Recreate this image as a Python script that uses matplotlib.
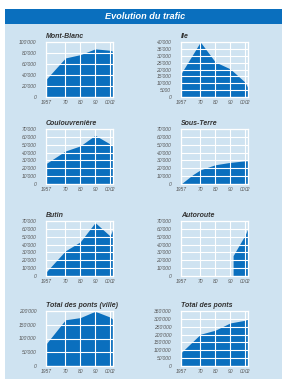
import matplotlib
matplotlib.use("Agg")
import matplotlib.pyplot as plt
from matplotlib.patches import Rectangle

plt.rcParams['font.family'] = ['Liberation Sans', 'DejaVu Sans']

title = "Evolution du trafic"
titles = ["Mont-Blanc", "Ile", "Coulouvrenière", "Sous-Terre",
          "Butin", "Autoroute", "Total des ponts (ville)", "Total des ponts"]

years_full = [1957, 1970, 1980, 1990, 2000, 2002]
mont_blanc = [32000, 71000, 77000, 87500, 85000, 83000]
ile = [17000, 40000, 25500, 20500, 10800, 6500]
coulouvreniere = [26000, 42000, 48500, 62000, 51000, 48000]
sous_terre_years = [1957, 1965, 1970, 1980, 1990, 2000, 2002]
sous_terre = [0, 12000, 18000, 24500, 27500, 29500, 29500]
butin = [5000, 32000, 43500, 68000, 51000, 60000]
autoroute_years = [1992, 2000, 2002]
autoroute = [26000, 52000, 61000]
total_ville = [80000, 168000, 176000, 199000, 178000, 169000]
total = [85000, 202000, 228000, 274000, 291000, 300000]

series_x = [years_full, years_full, years_full, sous_terre_years,
            years_full, autoroute_years, years_full, years_full]
series_y = [mont_blanc, ile, coulouvreniere, sous_terre,
            butin, autoroute, total_ville, total]
ymax = [100000, 40000, 70000, 70000, 70000, 70000, 200000, 350000]
ystep = [20000, 5000, 10000, 10000, 10000, 10000, 50000, 50000]

xtick_vals = [1957, 1970, 1980, 1990, 2000, 2002]
xtick_labels = ["1957", "70", "80", "90", "00", "02"]

PANEL = "#cfe3f1"
HEADER = "#0a6fbe"
FILL = "#0a6fbe"
TXT = "#555555"

W, H = 282, 385
fig = plt.figure(figsize=(W / 100, H / 100), dpi=100)
fig.patch.set_facecolor("white")
fig.patches.append(Rectangle((5 / W, 6 / H), 1 - 5 / W, 1 - 15 / H, transform=fig.transFigure,
                             facecolor=PANEL, edgecolor="none", zorder=0))
fig.patches.append(Rectangle((5 / W, 1 - 24 / H), 1 - 5 / W, 15 / H, transform=fig.transFigure,
                             facecolor=HEADER, edgecolor="none", zorder=1))
fig.text(0.515, 1 - 16.5 / H, title, color="white", fontsize=6.6, fontweight="bold",
         fontstyle="italic", ha="center", va="center", zorder=3)

col_x = [46 / W, 181 / W]
row_top = [42, 129, 221, 311]
aw, ah = 67 / W, 55 / H


def fmt(v):
    if v == 0:
        return "0"
    if v < 10000:
        return "%d" % v
    return "%d'000" % (v // 1000)


for i in range(8):
    r, c = divmod(i, 2)
    ax = fig.add_axes([col_x[c], 1 - (row_top[r] + 55) / H, aw, ah])
    ax.set_zorder(5)
    ax.set_facecolor(PANEL)
    ax.fill_between(series_x[i], 0, series_y[i], color=FILL, linewidth=0, zorder=1)
    ax.set_xlim(1957, 2002)
    ax.set_ylim(0, ymax[i])
    yt = list(range(0, ymax[i] + 1, ystep[i]))
    ax.set_yticks(yt)
    ax.set_yticklabels([fmt(v) for v in yt])
    ax.set_xticks(xtick_vals)
    ax.set_xticklabels(xtick_labels)
    ax.tick_params(length=0, labelsize=3.6, labelcolor=TXT)
    ax.tick_params(axis="y", pad=7)
    ax.tick_params(axis="x", pad=2.5)
    for lab in ax.get_xticklabels() + ax.get_yticklabels():
        lab.set_fontstyle("italic")
    ax.get_xticklabels()[4].set_horizontalalignment("right")
    ax.grid(True, color="white", linewidth=0.8, zorder=3)
    ax.set_axisbelow(False)
    for s in ax.spines.values():
        s.set_color("white")
        s.set_linewidth(0.9)
        s.set_zorder(4)
    ax.set_title(titles[i], loc="left", fontsize=5, fontweight="bold",
                 fontstyle="italic", color="#333333", pad=3)

fig.savefig("out.png", dpi=100, facecolor=fig.get_facecolor())
